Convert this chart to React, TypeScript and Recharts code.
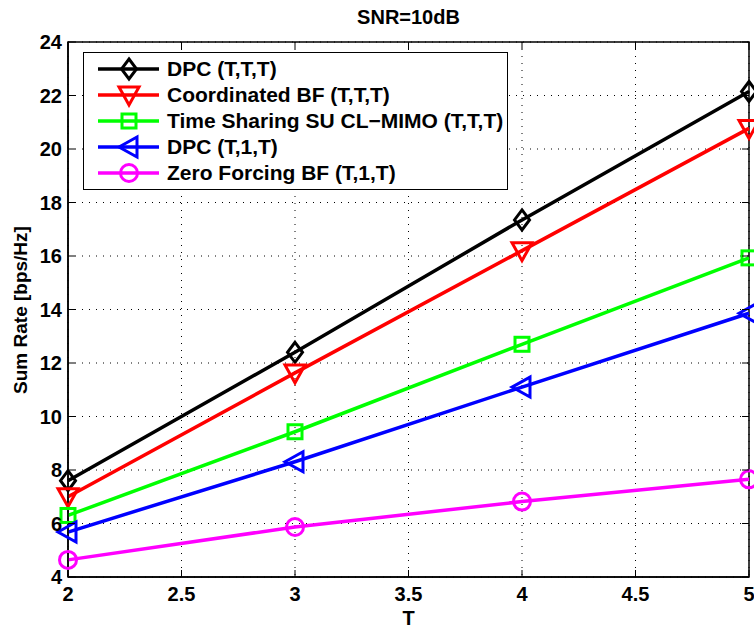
import React from "react";
import {
  LineChart,
  Line,
  XAxis,
  YAxis,
  CartesianGrid,
  ReferenceArea,
  Legend,
} from "recharts";

// Datos
const tValues = [2, 3, 4, 5];
const dpcTTT = [7.6, 12.4, 17.35, 22.15];
const coordBF = [7.0, 11.63, 16.2, 20.77];
const timeSharing = [6.3, 9.43, 12.7, 15.93];
const dpcT1T = [5.68, 8.31, 11.1, 13.86];
const zeroForcing = [4.64, 5.87, 6.82, 7.65];

const xTicks = [2, 2.5, 3, 3.5, 4, 4.5, 5];
const yTicks = [4, 6, 8, 10, 12, 14, 16, 18, 20, 22, 24];

type Shape = "diamond" | "down" | "square" | "left" | "circle";

interface Serie {
  key: string;
  name: string;
  color: string;
  shape: Shape;
  values: number[];
}

const series: Serie[] = [
  { key: "dpcTTT", name: "DPC (T,T,T)", color: "#000000", shape: "diamond", values: dpcTTT },
  { key: "coordBF", name: "Coordinated BF (T,T,T)", color: "#ff0000", shape: "down", values: coordBF },
  { key: "timeSharing", name: "Time Sharing SU CL\u2212MIMO (T,T,T)", color: "#00ff00", shape: "square", values: timeSharing },
  { key: "dpcT1T", name: "DPC (T,1,T)", color: "#0000ff", shape: "left", values: dpcT1T },
  { key: "zeroForcing", name: "Zero Forcing BF (T,1,T)", color: "#ff00ff", shape: "circle", values: zeroForcing },
];

const data = tValues.map((t, i) => {
  const row: any = { t };
  series.forEach((s) => (row[s.key] = s.values[i]));
  return row;
});

const FONT = "'Liberation Sans', Arial, Helvetica, sans-serif";
const W = 754;
const H = 628;
const M = { top: 42, right: 5, left: 0, bottom: 0 };
const Y_W = 68;
const X_H = 51;
const PLOT_W = W - Y_W - M.right;
const PLOT_H = H - M.top - X_H;

// Dibujar marcador según forma
const Marker = ({ shape, cx, cy, color }: { shape: Shape; cx: number; cy: number; color: string }) => {
  const common = { fill: "none", stroke: color, strokeWidth: 3 };
  switch (shape) {
    case "diamond":
      return <polygon points={`${cx},${cy - 10} ${cx + 7.5},${cy} ${cx},${cy + 10} ${cx - 7.5},${cy}`} {...common} />;
    case "down":
      return <polygon points={`${cx - 10},${cy - 8} ${cx + 10},${cy - 8} ${cx},${cy + 10}`} {...common} />;
    case "square":
      return <rect x={cx - 7} y={cy - 7} width={14} height={14} {...common} />;
    case "left":
      return <polygon points={`${cx - 10},${cy} ${cx + 8},${cy - 10} ${cx + 8},${cy + 10}`} {...common} />;
    case "circle":
      return <circle cx={cx} cy={cy} r={8.5} {...common} />;
  }
  return null;
};

const XTick = (props: any) => {
  const { x, y, payload } = props;
  return (
    <g>
      <line x1={x} x2={x} y1={y} y2={y - 7} stroke="#000" />
      <line x1={x} x2={x} y1={y - PLOT_H} y2={y - PLOT_H + 7} stroke="#000" />
      <text x={x} y={y + 24} textAnchor="middle" fontFamily={FONT} fontWeight="bold" fontSize={20} fill="#000">
        {payload.value}
      </text>
    </g>
  );
};

const YTick = (props: any) => {
  const { x, y, payload } = props;
  return (
    <g>
      <line x1={x} x2={x + 7} y1={y} y2={y} stroke="#000" />
      <line x1={x + PLOT_W} x2={x + PLOT_W - 7} y1={y} y2={y} stroke="#000" />
      <text x={x - 6} y={y} dy="0.36em" textAnchor="end" fontFamily={FONT} fontWeight="bold" fontSize={20} fill="#000">
        {payload.value}
      </text>
    </g>
  );
};

const LegendBox = () => (
  <div
    style={{
      border: "1.5px solid #000",
      background: "#fff",
      padding: "3px 0",
      width: 425,
      boxSizing: "border-box",
    }}
  >
    {series.map((s) => (
      <div key={s.key} style={{ display: "flex", alignItems: "center", height: 26 }}>
        <svg width={83} height={26} style={{ flex: "none" }}>
          <line x1={14} x2={75} y1={13} y2={13} stroke={s.color} strokeWidth={3.5} />
          <Marker shape={s.shape} cx={45} cy={13} color={s.color} />
        </svg>
        <span style={{ fontFamily: FONT, fontWeight: "bold", fontSize: 21, color: "#000", whiteSpace: "nowrap" }}>
          {s.name}
        </span>
      </div>
    ))}
  </div>
);

export default function App() {
  return (
    <div style={{ position: "absolute", left: 0, top: 0, width: W, height: H, background: "#fff" }}>
      <LineChart width={W} height={H} data={data} margin={M}>
        <CartesianGrid stroke="#000" strokeDasharray="1 6" strokeWidth={1} />
        <XAxis
          dataKey="t"
          type="number"
          domain={[2, 5]}
          ticks={xTicks}
          height={X_H}
          tickSize={0}
          tickMargin={0}
          tickLine={false}
          axisLine={{ stroke: "#000", strokeWidth: 1.5 }}
          tick={<XTick />}
          interval={0}
        />
        <YAxis
          type="number"
          domain={[4, 24]}
          ticks={yTicks}
          width={Y_W}
          tickSize={0}
          tickMargin={0}
          tickLine={false}
          axisLine={{ stroke: "#000", strokeWidth: 1.5 }}
          tick={<YTick />}
          interval={0}
        />
        <ReferenceArea x1={2} x2={5} y1={4} y2={24} fill="none" stroke="#000" strokeWidth={1.5} />
        {series.map((s) => (
          <Line
            key={s.key}
            dataKey={s.key}
            name={s.name}
            stroke={s.color}
            strokeWidth={3.5}
            isAnimationActive={false}
            dot={(p: any) => <Marker key={`${s.key}-${p.index}`} shape={s.shape} cx={p.cx} cy={p.cy} color={s.color} />}
            activeDot={false}
          />
        ))}
        <Legend
          layout="horizontal"
          verticalAlign="middle"
          align="center"
          content={<LegendBox />}
          wrapperStyle={{ left: 83, top: 52, width: 425 }}
        />
      </LineChart>
      <div
        style={{
          position: "absolute",
          left: Y_W,
          width: PLOT_W,
          top: 5,
          lineHeight: "24px",
          textAlign: "center",
          fontFamily: FONT,
          fontWeight: "bold",
          fontSize: 20,
        }}
      >
        SNR=10dB
      </div>
      <div
        style={{
          position: "absolute",
          left: Y_W,
          width: PLOT_W,
          top: 606,
          lineHeight: "24px",
          textAlign: "center",
          fontFamily: FONT,
          fontWeight: "bold",
          fontSize: 20,
        }}
      >
        T
      </div>
      <div
        style={{
          position: "absolute",
          left: 21,
          top: M.top + PLOT_H / 2,
          transform: "translate(-50%, -50%) rotate(-90deg)",
          whiteSpace: "nowrap",
          lineHeight: "22px",
          fontFamily: FONT,
          fontWeight: "bold",
          fontSize: 19,
        }}
      >
        Sum Rate [bps/Hz]
      </div>
    </div>
  );
}
